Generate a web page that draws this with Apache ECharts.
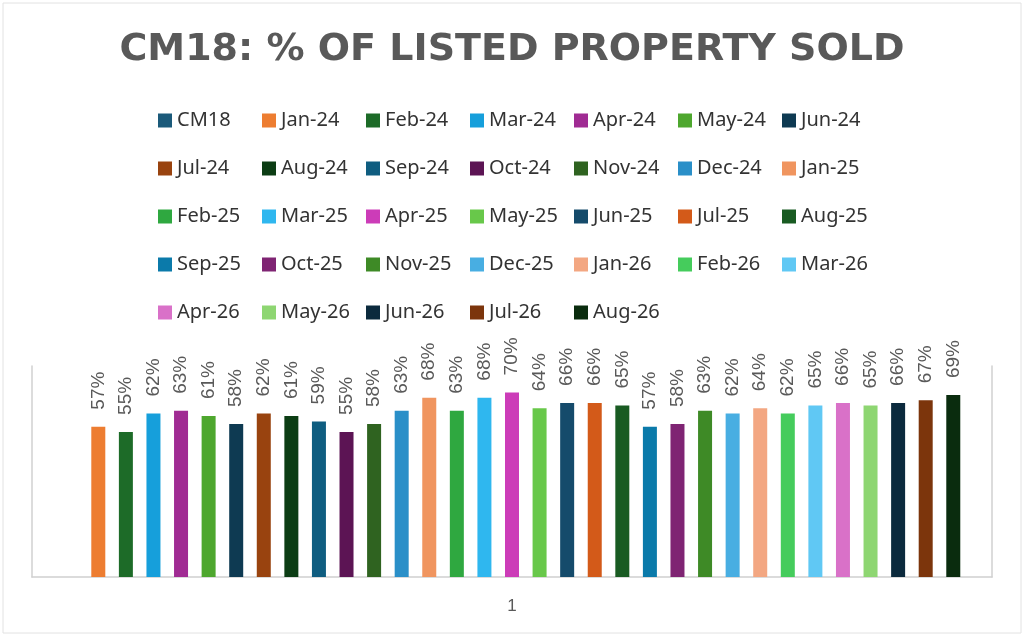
<!DOCTYPE html>
<html>
<head>
<meta charset="utf-8">
<script src="https://cdn.jsdelivr.net/npm/echarts@6/dist/echarts.min.js"></script>
<style>
  html, body { margin: 0; padding: 0; background: #fff; }
  #chart { width: 1024px; height: 636px; }
</style>
</head>
<body>
<div id="chart"></div>
<script>
// category on the x axis (Excel-style single category)
const categories = ['1'];

// series names (CM18 has no bar, only a legend entry)
const seriesNames = [
  'CM18', 'Jan-24', 'Feb-24', 'Mar-24', 'Apr-24', 'May-24', 'Jun-24',
  'Jul-24', 'Aug-24', 'Sep-24', 'Oct-24', 'Nov-24', 'Dec-24', 'Jan-25',
  'Feb-25', 'Mar-25', 'Apr-25', 'May-25', 'Jun-25', 'Jul-25', 'Aug-25',
  'Sep-25', 'Oct-25', 'Nov-25', 'Dec-25', 'Jan-26', 'Feb-26', 'Mar-26',
  'Apr-26', 'May-26', 'Jun-26', 'Jul-26', 'Aug-26'
];

// share of listed property sold, one value per series
const soldShare = [
  null, 0.57, 0.55, 0.62, 0.63, 0.61, 0.58,
  0.62, 0.61, 0.59, 0.55, 0.58, 0.63, 0.68,
  0.63, 0.68, 0.70, 0.64, 0.66, 0.66, 0.65,
  0.57, 0.58, 0.63, 0.62, 0.64, 0.62, 0.65,
  0.66, 0.65, 0.66, 0.67, 0.69
];

const seriesColors = [
  '#1b5a7a', '#ed7d31', '#1d6b28', '#169fdb', '#a02b93', '#4ea72e', '#0e3a52',
  '#99430f', '#0c3d14', '#0f5d80', '#5c1454', '#2f6320', '#2a8fc8', '#f0955f',
  '#2fa840', '#2fb7ef', '#cc3cb8', '#68c84a', '#154b6b', '#d35a19', '#195b22',
  '#0b7aaa', '#7f2473', '#3e8a26', '#48aee2', '#f3a782', '#45cc5c', '#60c8f4',
  '#d971c8', '#8ed672', '#0b2a3d', '#7c350c', '#0a2c0e'
];

const chart = echarts.init(document.getElementById('chart'), null, { renderer: 'canvas' });

const series = seriesNames.map((name, i) => ({
  name: name,
  type: 'bar',
  data: [soldShare[i]],
  barWidth: 14,
  barGap: '97%',
  itemStyle: { color: seriesColors[i] },
  label: {
    show: soldShare[i] !== null,
    position: 'top',
    rotate: 90,
    align: 'left',
    verticalAlign: 'middle',
    distance: 17,
    fontFamily: 'Liberation Sans',
    fontSize: 19,
    color: '#595959',
    formatter: p => Math.round(p.value * 100) + '%'
  }
}));

chart.setOption({
  animation: false,
  backgroundColor: '#ffffff',
  color: seriesColors,
  graphic: [{
    type: 'rect',
    shape: { x: 3, y: 3, width: 1018, height: 630 },
    style: { fill: 'none', stroke: '#e2e2e2', lineWidth: 1 },
    silent: true
  }],
  title: {
    text: 'CM18: % OF LISTED PROPERTY SOLD',
    left: 'center',
    top: 26,
    textStyle: {
      fontFamily: 'DejaVu Sans',
      fontWeight: 'bold',
      fontSize: 38,
      color: '#595959'
    }
  },
  legend: {
    data: seriesNames,
    left: 153,
    top: 94,
    width: 730,
    itemWidth: 14,
    itemHeight: 14,
    itemGap: 5,
    icon: 'rect',
    textStyle: {
      fontFamily: 'Noto Sans',
      fontSize: 20,
      color: '#333333',
      width: 80,
      lineHeight: 43
    }
  },
  grid: { left: 32, right: 32, top: 366, bottom: 59 },
  xAxis: {
    type: 'category',
    data: categories,
    axisLine: { show: true, lineStyle: { color: '#d0d0d0', width: 1.5 } },
    axisTick: { show: false },
    axisLabel: { fontFamily: 'Liberation Sans', fontSize: 17, color: '#595959', margin: 21 }
  },
  yAxis: [
    {
      type: 'value', min: 0, max: 0.8, position: 'left',
      axisLine: { show: true, lineStyle: { color: '#d0d0d0', width: 1.5 } },
      axisLabel: { show: false }, axisTick: { show: false }, splitLine: { show: false }
    },
    {
      type: 'value', min: 0, max: 0.8, position: 'right',
      axisLine: { show: true, lineStyle: { color: '#d0d0d0', width: 1.5 } },
      axisLabel: { show: false }, axisTick: { show: false }, splitLine: { show: false }
    }
  ],
  series: series
});
</script>
</body>
</html>
